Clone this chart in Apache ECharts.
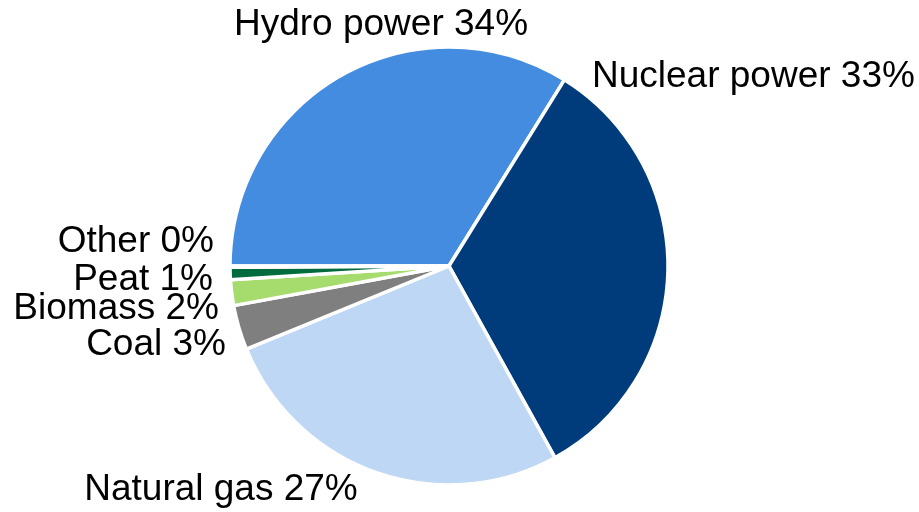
<!DOCTYPE html>
<html>
	<head>
		<meta charset="UTF-8">
		<title>Electricity generation by source</title>
		<style>
			html, body { margin: 0; padding: 0; background: #fff; }
			#chart { width: 919px; height: 512px; }
		</style>
	</head>
	<body>
		<div id="chart"></div>
		<script src="https://cdn.jsdelivr.net/npm/echarts@6/dist/echarts.min.js"></script>
		<script>
			// 数据：能源类别和占比(%)
			var sources = ['Hydro power', 'Nuclear power', 'Natural gas', 'Coal', 'Biomass', 'Peat', 'Other'];
			var shares = [33.9, 33.2, 26.9, 3.3, 1.9, 0.9, 0.1];
			var colors = ['#438CDF', '#003C7C', '#BDD7F4', '#7F7F7F', '#A6DB6E', '#006B3C', '#5B9BD5'];

			// 标签位置（像素）
			var labelPos = [
				{x: 381, y: 25, align: 'center'},
				{x: 592, y: 77, align: 'left'},
				{x: 221, y: 490, align: 'center'},
				{x: 226, y: 345, align: 'right'},
				{x: 219, y: 309, align: 'right'},
				{x: 213, y: 280, align: 'right'},
				{x: 214, y: 242, align: 'right'}
			];

			var chart = echarts.init(document.getElementById('chart'));

			var pieData = sources.map(function(name, i) {
				return {name: name, value: shares[i], itemStyle: {color: colors[i]}};
			});

			var option = {
				backgroundColor: '#fff',
				animation: false,
				series: [{
					type: 'pie',
					center: [449, 266],
					radius: 219,
					startAngle: 180,
					clockwise: true,
					avoidLabelOverlap: false,
					itemStyle: {
						borderColor: '#fff',
						borderWidth: 3.5
					},
					label: {
						show: true,
						position: 'outside',
						color: '#000',
						fontSize: 37,
						fontFamily: 'Liberation Sans, Arial, sans-serif',
						formatter: function(p) {
							return p.name + ' ' + Math.round(p.value) + '%';
						}
					},
					labelLine: { show: false },
					labelLayout: function(params) {
						var lp = labelPos[params.dataIndex];
						return {x: lp.x, y: lp.y, align: lp.align, verticalAlign: 'middle', hideOverlap: false, moveOverlap: false};
					},
					data: pieData
				}]
			};
			chart.setOption(option);
		</script>
	</body>
</html>
